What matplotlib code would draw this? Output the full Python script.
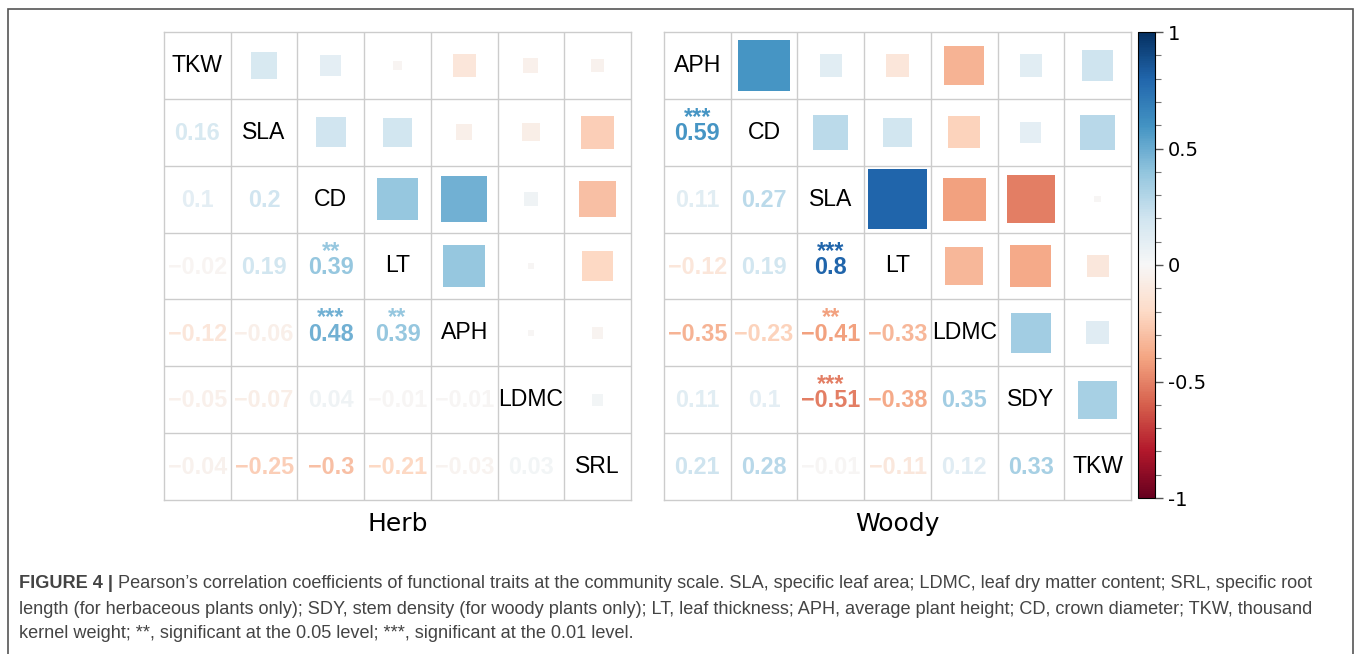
import numpy as np
import matplotlib
matplotlib.use("Agg")
from matplotlib import pyplot as plt
from matplotlib.patches import Rectangle
from matplotlib.colors import Normalize

plt.rcParams["font.family"] = ["Liberation Sans", "DejaVu Sans"]
NARROW = ["Liberation Sans Narrow", "DejaVu Sans"]

# traits for each group (diagonal order)
herb_traits = ["TKW", "SLA", "CD", "LT", "APH", "LDMC", "SRL"]
woody_traits = ["APH", "CD", "SLA", "LT", "LDMC", "SDY", "TKW"]

# lower triangle, row by row
herb_lower = [
    [0.16],
    [0.1, 0.2],
    [-0.02, 0.19, 0.39],
    [-0.12, -0.06, 0.48, 0.39],
    [-0.05, -0.07, 0.04, -0.01, -0.01],
    [-0.04, -0.25, -0.3, -0.21, -0.03, 0.03],
]
herb_stars = [
    [""],
    ["", ""],
    ["", "", "**"],
    ["", "", "***", "**"],
    ["", "", "", "", ""],
    ["", "", "", "", "", ""],
]
woody_lower = [
    [0.59],
    [0.11, 0.27],
    [-0.12, 0.19, 0.8],
    [-0.35, -0.23, -0.41, -0.33],
    [0.11, 0.1, -0.51, -0.38, 0.35],
    [0.21, 0.28, -0.01, -0.11, 0.12, 0.33],
]
woody_stars = [
    ["***"],
    ["", ""],
    ["", "", "***"],
    ["", "", "**", ""],
    ["", "", "***", "", ""],
    ["", "", "", "", "", ""],
]

cmap = plt.get_cmap("RdBu")
norm = Normalize(-1, 1)
W, H = 1358, 654


def full_matrix(lower):
    n = len(lower) + 1
    m = np.eye(n)
    for i, row in enumerate(lower):
        for j, v in enumerate(row):
            m[i + 1, j] = v
            m[j, i + 1] = v
    return m


def fmt(v):
    s = ("%.2f" % abs(v)).rstrip("0").rstrip(".")
    return ("\u2212" if v < 0 else "") + s


def corr_panel(ax, traits, lower, stars, title):
    m = full_matrix(lower)
    n = len(traits)
    ax.set_xlim(0, n)
    ax.set_ylim(n, 0)
    ax.set_xticks([])
    ax.set_yticks([])
    for sp in ax.spines.values():
        sp.set_color("#cccccc")
        sp.set_linewidth(1)
    for k in range(1, n):
        ax.axvline(k, color="#cccccc", lw=1)
        ax.axhline(k, color="#cccccc", lw=1)
    for i in range(n):
        for j in range(n):
            v = m[i, j]
            c = cmap(norm(v))
            if i == j:
                ax.text(j + 0.5, i + 0.5, traits[i], ha="center", va="center",
                        fontsize=16.6, color="black")
            elif i > j:
                st = stars[i - 1][j]
                label = fmt(v) if not st else st + "\n" + fmt(v)
                # bottom-anchored so the number sits at the cell centre
                ax.text(j + 0.5, i + 0.69, label, ha="center", va="bottom",
                        fontsize=16.8, fontweight="bold", color=c,
                        linespacing=0.62, multialignment="center")
            else:
                s = np.sqrt(abs(v))
                ax.add_patch(Rectangle((j + 0.5 - s / 2, i + 0.5 - s / 2), s, s,
                                       facecolor=c, edgecolor="none"))
    ax.text(0.5, -0.025, title, transform=ax.transAxes, ha="center", va="top",
            fontsize=18, family=NARROW)


fig = plt.figure(figsize=(W / 100, H / 100), dpi=100)

ax_herb = fig.add_axes([164 / W, 1 - 500 / H, 467 / W, 468 / H])
ax_woody = fig.add_axes([664 / W, 1 - 500 / H, 467 / W, 468 / H])
corr_panel(ax_herb, herb_traits, herb_lower, herb_stars, "Herb")
corr_panel(ax_woody, woody_traits, woody_lower, woody_stars, "Woody")

cax = fig.add_axes([1138 / W, 1 - 498 / H, 17 / W, 466 / H])
cb = fig.colorbar(plt.cm.ScalarMappable(norm=norm, cmap=cmap), cax=cax)
cb.set_ticks([-1, -0.5, 0, 0.5, 1])
cb.set_ticklabels(["-1", "-0.5", "0", "0.5", "1"])
cb.ax.set_yticks(np.arange(-1, 1.01, 0.1), minor=True)
cb.ax.tick_params(which="major", length=6, width=1, labelsize=14, color="#555555")
cb.ax.tick_params(which="minor", length=4, width=0.8, color="#777777")
for lab in cb.ax.get_yticklabels():
    lab.set_family(NARROW)
cb.outline.set_linewidth(0.8)

# caption frame
fig.add_artist(Rectangle((8 / W, -0.02), 1345 / W, 1.02 - 9 / H, transform=fig.transFigure,
                         fill=False, edgecolor="#555555", lw=1.2))

cap_color = "#444444"
cap_size = 13.05
lines = [
    "Pearson\u2019s correlation coefficients of functional traits at the community scale. SLA, specific leaf area; LDMC, leaf dry matter content; SRL, specific root",
    "length (for herbaceous plants only); SDY, stem density (for woody plants only); LT, leaf thickness; APH, average plant height; CD, crown diameter; TKW, thousand",
    "kernel weight; **, significant at the 0.05 level; ***, significant at the 0.01 level.",
]
ys = [584, 609, 633]
head = fig.text(19 / W, 1 - ys[0] / H, "FIGURE 4 | ", fontsize=cap_size, fontweight="bold",
                color=cap_color, va="center", ha="left")
r = fig.canvas.get_renderer()
bb = head.get_window_extent(renderer=r)
fig.text(bb.x1 / W, 1 - ys[0] / H, lines[0], fontsize=cap_size, color=cap_color,
         va="center", ha="left")
for txt, y in zip(lines[1:], ys[1:]):
    fig.text(19 / W, 1 - y / H, txt, fontsize=cap_size, color=cap_color, va="center", ha="left")

fig.savefig("out.png", dpi=100, facecolor="white")
